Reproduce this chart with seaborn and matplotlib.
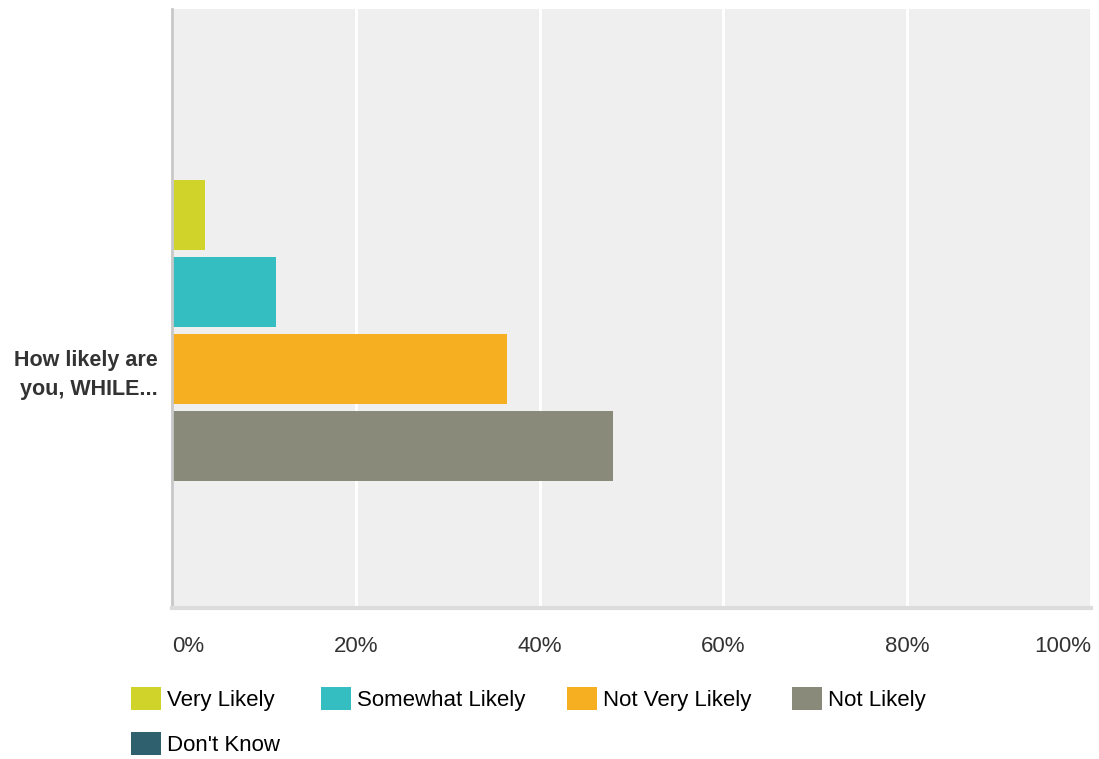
# -*- coding: utf-8 -*-

# グラフ描画用
import matplotlib
matplotlib.use('Agg')
import pandas as pd
import matplotlib.pyplot as plt
import seaborn as sns

# データ
question = ['How likely are\nyou, WHILE...']
answers = ['Very Likely', 'Somewhat Likely', 'Not Very Likely', 'Not Likely', "Don't Know"]
percents = [3.6, 11.3, 36.4, 48.0, 0.0]
colors = ['#d0d42a', '#35bec1', '#f6af20', '#8a8a7a', '#2e606d']
x_ticks = [0, 20, 40, 60, 80, 100]
x_tick_labels = ['0%', '20%', '40%', '60%', '80%', '100%']

df = pd.DataFrame({
    'question': question * len(answers),
    'answer': answers,
    'percent': percents,
})

sns.set_style('white')
plt.rcParams['font.family'] = ['Liberation Sans', 'DejaVu Sans']

fig = plt.figure(figsize=(10.99, 7.59), dpi=100)
ax = fig.add_axes([172 / 1099, 1 - 608 / 759, (1091 - 172) / 1099, (608 - 9) / 759])

sns.barplot(data=df, x='percent', y='question', hue='answer', hue_order=answers,
            palette=colors, orient='h', width=0.8, gap=0.09, saturation=1,
            linewidth=0, ax=ax)

# 軸の設定
ax.set_xlim(0, 100)
ax.set_ylim(0.497, -0.748)
ax.set_xlabel('')
ax.set_ylabel('')
ax.set_facecolor('#efefef')
ax.grid(axis='x', color='white', linewidth=2)
ax.grid(axis='y', visible=False)
ax.set_axisbelow(True)
for s in ['top', 'right']:
    ax.spines[s].set_visible(False)
ax.spines['left'].set_color('#c8c8c8')
ax.spines['left'].set_linewidth(2)
ax.spines['bottom'].set_color('#dcdcdc')
ax.spines['bottom'].set_linewidth(3)

ax.set_xticks(x_ticks)
ax.set_xticklabels(x_tick_labels)
ax.tick_params(axis='x', length=0, pad=20, labelsize=16, labelcolor='#333333')
ax.tick_params(axis='y', length=0, pad=10, labelsize=15.5)
xl = ax.get_xticklabels()
xl[0].set_ha('left')
xl[-1].set_ha('right')
for t in ax.get_yticklabels():
    t.set_fontweight('bold')
    t.set_color('#333333')
    t.set_linespacing(1.45)

# 凡例 (行ごとに並べるため順番を入れ替え)
old = ax.get_legend()
handles = list(old.legend_handles)
labels = [t.get_text() for t in old.get_texts()]
old.remove()
order = [0, 4, 1, 2, 3]
ax.legend([handles[i] for i in order], [labels[i] for i in order],
          loc='upper left', bbox_to_anchor=(131 / 1099, 1 - 687 / 759),
          bbox_transform=fig.transFigure, ncol=4, frameon=False,
          fontsize=16, handlelength=1.35, handleheight=1.2, handletextpad=0.27,
          columnspacing=1.85, labelspacing=0.95, borderaxespad=0, borderpad=0,
          labelcolor='black')

fig.savefig('out.png', dpi=100)
